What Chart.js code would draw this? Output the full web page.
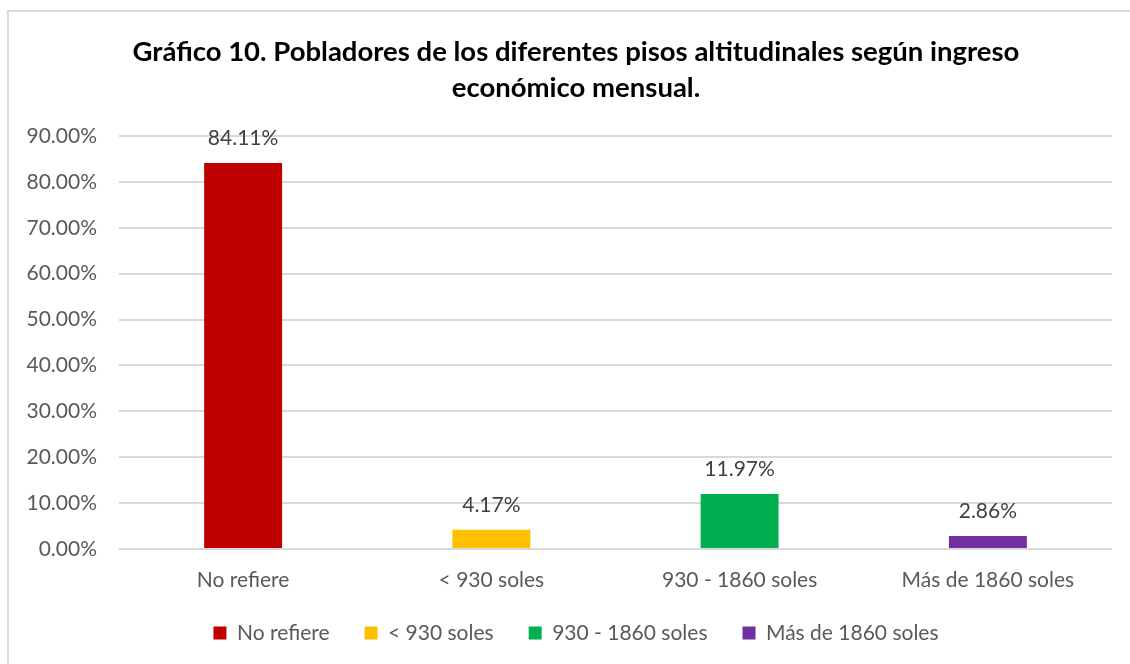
<!DOCTYPE html>
<html>
<head>
<meta charset="utf-8">
<script src="https://cdn.jsdelivr.net/npm/chart.js@4/dist/chart.umd.min.js"></script>
<style>
  html, body { margin: 0; padding: 0; background: #fff; }
  #wrap { position: relative; width: 1130px; height: 664px; }
  canvas { display: block; }
</style>
</head>
<body>
<div id="wrap"><canvas id="c" width="1130" height="664"></canvas></div>
<script>
const categories = ['No refiere', '< 930 soles', '930 - 1860 soles', 'Más de 1860 soles'];
const values = [84.11, 4.17, 11.97, 2.86];
const colors = ['#C00000', '#FFC000', '#00B050', '#7030A0'];
const yTicks = [0, 10, 20, 30, 40, 50, 60, 70, 80, 90];
const titleLines = ['Gráfico 10. Pobladores de los diferentes pisos altitudinales según ingreso', 'económico mensual.'];

const FONT = 'Lato, "Open Sans", sans-serif';

const frame = {
  id: 'frame',
  beforeDraw(chart) {
    const ctx = chart.ctx;
    ctx.save();
    ctx.fillStyle = '#fff';
    ctx.fillRect(0, 0, chart.width, chart.height);
    ctx.strokeStyle = '#d9d9d9';
    ctx.lineWidth = 2;
    ctx.beginPath();
    ctx.moveTo(8, chart.height + 5);
    ctx.lineTo(8, 11);
    ctx.lineTo(chart.width + 5, 11);
    ctx.stroke();
    ctx.restore();
  }
};

const dataLabels = {
  id: 'dataLabels',
  afterDatasetsDraw(chart) {
    const ctx = chart.ctx;
    const meta = chart.getDatasetMeta(0);
    ctx.save();
    ctx.font = '21px ' + FONT;
    ctx.fillStyle = '#404040';
    ctx.textAlign = 'center';
    ctx.textBaseline = 'middle';
    meta.data.forEach((bar, i) => {
      ctx.fillText(values[i].toFixed(2) + '%', bar.x, bar.y - 25);
    });
    ctx.restore();
  }
};

new Chart(document.getElementById('c'), {
  type: 'bar',
  data: {
    labels: categories,
    datasets: [{
      data: values,
      backgroundColor: colors,
      borderWidth: 0,
      barPercentage: 0.314,
      categoryPercentage: 1
    }]
  },
  plugins: [frame, dataLabels],
  options: {
    responsive: false,
    animation: false,
    events: [],
    layout: { padding: { top: 24, left: 40, right: 18, bottom: 10.5 } },
    plugins: {
      tooltip: { enabled: false },
      title: {
        display: true,
        text: titleLines,
        color: '#000',
        font: { family: FONT, size: 27.5, weight: 'bold', lineHeight: 1.309 },
        padding: { top: 10, bottom: 30 }
      },
      legend: {
        display: true,
        position: 'bottom',
        onClick: null,
        labels: {
          color: '#595959',
          font: { family: FONT, size: 21 },
          boxWidth: 13,
          boxHeight: 13,
          padding: 35,
          generateLabels() {
            return categories.map((c, i) => ({
              text: c,
              fillStyle: colors[i],
              strokeStyle: colors[i],
              lineWidth: 0,
              fontColor: '#595959',
              hidden: false,
              index: i
            }));
          }
        }
      }
    },
    scales: {
      x: {
        grid: { display: false, drawTicks: false },
        border: { display: false },
        ticks: { color: '#595959', font: { family: FONT, size: 21 }, padding: 18.4 },
        afterFit(s) { s.height = 38.5; }
      },
      y: {
        min: 0,
        max: 90,
        afterBuildTicks(s) { s.ticks = yTicks.map(v => ({ value: v })); },
        grid: { color: '#d9d9d9', lineWidth: 2, drawTicks: false },
        border: { display: false },
        ticks: {
          color: '#595959',
          font: { family: FONT, size: 21 },
          padding: 22,
          callback: v => v.toFixed(2) + '%'
        },
        afterFit(s) {
          s.width = 79;
          s._computeLabelArea = () => undefined;
        }
      }
    }
  }
});
</script>
</body>
</html>
